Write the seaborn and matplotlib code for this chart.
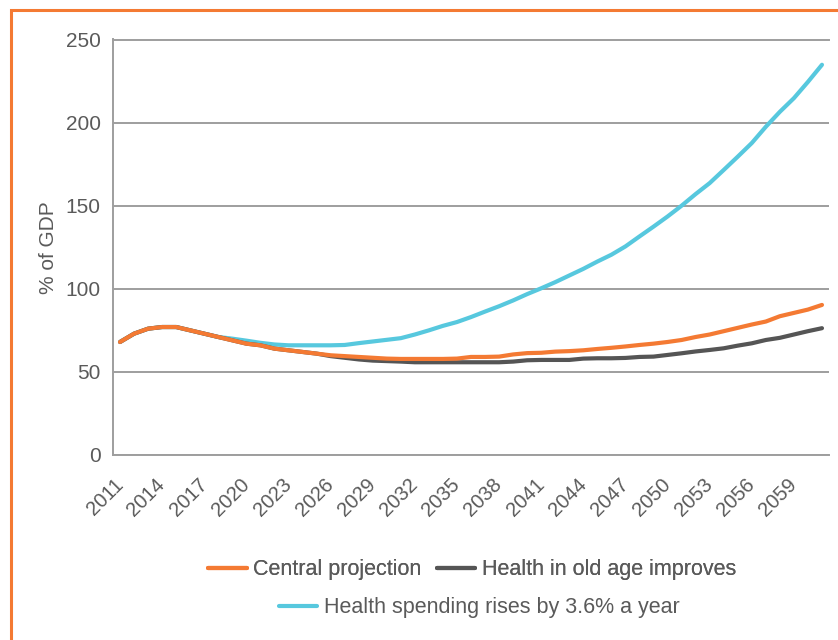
import matplotlib
matplotlib.use("Agg")
import matplotlib.pyplot as plt
from matplotlib.patches import Rectangle
from matplotlib.lines import Line2D
import numpy as np
import pandas as pd
import seaborn as sns

# Public debt projections, % of GDP
years = list(range(2011, 2062))

central = [68, 73, 76, 77, 77, 75, 73, 71, 69, 67,
           66, 64, 63, 62, 61, 60, 59.5, 59, 58.5, 58,
           57.8, 57.8, 57.8, 57.8, 58, 59, 59, 59.2, 60.5, 61.3,
           61.5, 62.2, 62.5, 63, 63.8, 64.5, 65.3, 66.2, 67, 68,
           69.2, 71, 72.5, 74.5, 76.5, 78.5, 80.3, 83.5, 85.5, 87.5,
           90.3]

old_age = [68, 73, 76, 77, 77, 75, 73, 71, 69, 67,
           66, 64, 63, 62, 61, 59.5, 58.5, 57.5, 56.8, 56.5,
           56.2, 55.8, 55.8, 55.8, 55.8, 55.8, 55.8, 55.8, 56.2, 57,
           57.2, 57.2, 57.2, 58, 58.2, 58.2, 58.4, 59, 59.2, 60.2,
           61.2, 62.3, 63.2, 64.2, 65.8, 67.2, 69.2, 70.5, 72.5, 74.5,
           76.3]

spending = [68, 73, 76, 77, 77, 75, 73, 71, 70, 68.8,
            67.5, 66.5, 66, 66, 66, 66, 66.2, 67.3, 68.3, 69.3,
            70.3, 72.5, 75, 77.7, 80, 83, 86.3, 89.5, 93, 96.8,
            100.3, 104, 108, 112, 116.4, 120.5, 125.5, 131.5, 137.4, 143.5,
            150, 157, 163.6, 171.5, 179.5, 187.7, 197.5, 206.5, 214.7, 224.5,
            234.8]

series_names = ["Central projection",
                "Health in old age improves",
                "Health spending rises by 3.6% a year"]
colors = {"Central projection": "#F47A33",
          "Health in old age improves": "#555555",
          "Health spending rises by 3.6% a year": "#57C8DE"}

df = pd.DataFrame({
    "year": years * 3,
    "value": central + old_age + spending,
    "series": ([series_names[0]] * len(years)
               + [series_names[1]] * len(years)
               + [series_names[2]] * len(years)),
})

sns.set_theme(style="white")
plt.rcParams["font.family"] = ["Liberation Sans", "DejaVu Sans"]

text_color = "#5A5A5A"
grid_color = "#9E9E9E"

fig = plt.figure(figsize=(8.38, 6.4), dpi=100)
ax = fig.add_axes([113 / 838, 1 - 455 / 640, (829 - 113) / 838, (455 - 39.5) / 640])

# draw order: cyan underneath, orange on top
sns.lineplot(data=df, x="year", y="value", hue="series",
             hue_order=[series_names[2], series_names[1], series_names[0]],
             palette=colors, linewidth=3.0, ax=ax, legend=False)
for ln in ax.lines:
    ln.set_solid_capstyle("round")
    ln.set_solid_joinstyle("round")

ax.set_xlim(2010.5, 2061.5)
ax.set_ylim(0, 250)
ax.set_yticks([0, 50, 100, 150, 200, 250])
ax.set_xticks(years[::3])
ax.set_xticklabels([str(y) for y in years[::3]], rotation=45, ha="right",
                   va="center", rotation_mode="anchor")
ax.tick_params(axis="both", length=0, colors=text_color)
ax.tick_params(axis="y", labelsize=15, pad=9)
ax.tick_params(axis="x", labelsize=14.5, pad=19)

ax.grid(axis="y", color=grid_color, linewidth=1.4)
ax.set_axisbelow(True)
for side in ["left", "bottom", "top"]:
    ax.spines[side].set_color(grid_color)
    ax.spines[side].set_linewidth(1.4)
ax.spines["right"].set_visible(False)

ax.set_xlabel("")
ax.set_ylabel("% of GDP", fontsize=15, color=text_color, labelpad=5)

handles = [Line2D([0], [0], color=colors[n], linewidth=3.0, solid_capstyle="round")
           for n in series_names]
leg1 = fig.legend(handles[:2], series_names[:2], ncol=2, loc="center",
                  bbox_to_anchor=(472 / 838, 1 - 570 / 640), frameon=False,
                  fontsize=15.5, handlelength=1.8, handletextpad=0.3,
                  columnspacing=0.7, labelcolor=text_color)
leg2 = fig.legend(handles[2:], series_names[2:], ncol=1, loc="center",
                  bbox_to_anchor=(479 / 838, 1 - 608 / 640), frameon=False,
                  fontsize=15.5, handlelength=1.8, handletextpad=0.3,
                  labelcolor=text_color)
fig.add_artist(leg1)

# orange frame around the panel
fig.add_artist(Rectangle((10.5 / 838, -0.05), 1.1, 1 - 10 / 640 + 0.05,
                         transform=fig.transFigure, fill=False,
                         edgecolor="#F47A33", linewidth=2.2))

fig.savefig("out.png", dpi=100)
